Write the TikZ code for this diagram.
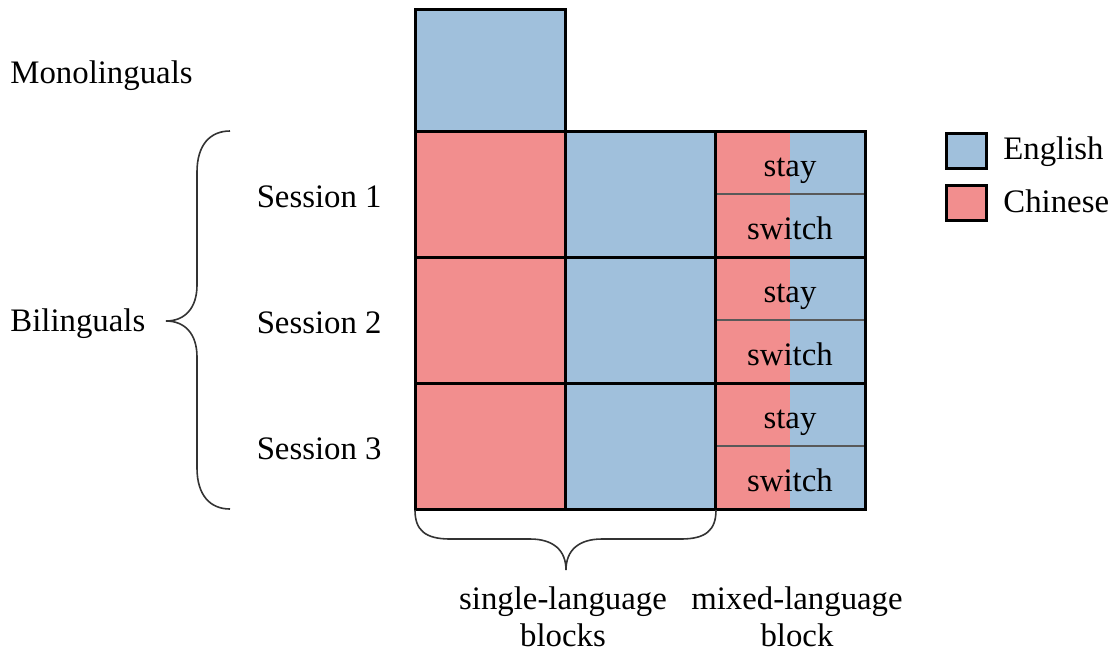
\documentclass[tikz,border=0pt]{standalone}
\usepackage{fontspec}
\setmainfont{Liberation Serif}
\usetikzlibrary{positioning}
\definecolor{engblue}{RGB}{160,192,220}
\definecolor{zhred}{RGB}{242,142,142}

\begin{document}
\begin{tikzpicture}[
    x=0.5pt, y=-0.5pt,
    % Define styles
    lab/.style={inner sep=0pt, font=\fontsize{16.4pt}{18.5pt}\selectfont},
    block/.style={rectangle, draw=black, line width=1.5pt, outer sep=0pt, inner sep=0pt, minimum width=75pt, minimum height=63pt},
    engblock/.style={block, fill=engblue},
    zhblock/.style={block, fill=zhred},
    mixcell/.style={rectangle, draw=black!65, line width=0.9pt, outer sep=0pt, inner sep=0pt, minimum width=75pt, minimum height=31.5pt, fill=zhred, text height=14pt, text depth=0pt, font=\fontsize{16.4pt}{18.5pt}\selectfont,
        path picture={\fill[engblue] (path picture bounding box.south) rectangle (path picture bounding box.north east);}},
    frame/.style={draw=black, line width=1.5pt},
    brace/.style={draw=black!80, line width=0.8pt},
    key/.style={rectangle, draw=black, line width=1.5pt, inner sep=0pt, minimum width=20pt, minimum height=17.5pt}
]
\useasboundingbox (0,0) rectangle (1115,655);

% Monolinguals
\node[engblock, minimum height=61pt] (mono) at (490,70) {};

% Session 1
\node[zhblock, below=0pt of mono] (s1zh) {};
\node[engblock, right=0pt of s1zh] (s1en) {};
\node[mixcell, anchor=north west] (s1stay) at (s1en.north east) {stay};
\node[mixcell, below=0pt of s1stay] (s1switch) {switch};
\draw[frame] (s1stay.north west) rectangle (s1switch.south east);

% Session 2
\node[zhblock, below=0pt of s1zh] (s2zh) {};
\node[engblock, right=0pt of s2zh] (s2en) {};
\node[mixcell, anchor=north west] (s2stay) at (s2en.north east) {stay};
\node[mixcell, below=0pt of s2stay] (s2switch) {switch};
\draw[frame] (s2stay.north west) rectangle (s2switch.south east);

% Session 3
\node[zhblock, below=0pt of s2zh] (s3zh) {};
\node[engblock, right=0pt of s3zh] (s3en) {};
\node[mixcell, anchor=north west] (s3stay) at (s3en.north east) {stay};
\node[mixcell, below=0pt of s3stay] (s3switch) {switch};
\draw[frame] (s3stay.north west) rectangle (s3switch.south east);

% Row labels
\node[lab, anchor=base west] (monolab) at (10,83) {Monolinguals};
\node[lab, anchor=base west] (bilab) at (10,331) {Bilinguals};
\node[lab, left=16.5pt of s1zh, yshift=-1.5pt] (sess1) {Session 1};
\node[lab, left=16.5pt of s2zh, yshift=-1.5pt] (sess2) {Session 2};
\node[lab, left=16.5pt of s3zh, yshift=-1.5pt] (sess3) {Session 3};

% Braces
\draw[brace] (230,131) .. controls (210,131) and (197,145) .. (197,172)
    -- (197,285) .. controls (197,308) and (185,321) .. (166,321)
    .. controls (185,321) and (197,334) .. (197,357)
    -- (197,468) .. controls (197,495) and (210,509) .. (230,509);
\draw[brace] (415,510) .. controls (415,530) and (425,539) .. (450,539)
    -- (530,539) .. controls (553,539) and (566,550) .. (566,570)
    .. controls (566,550) and (579,539) .. (602,539)
    -- (681,539) .. controls (706,539) and (716,530) .. (716,510);

% Column labels
\node[lab, align=center, anchor=north] (singlelab) at (563,586) {single-language\\blocks};
\node[lab, align=center, anchor=north] (mixlab) at (797,586) {mixed-language\\block};

% Legend
\node[key, fill=engblue] (engkey) at (966,150.5) {};
\node[key, fill=zhred] (zhkey) at (966,202.5) {};
\node[lab, anchor=base west] (englab) at (1003,159) {English};
\node[lab, anchor=base west] (zhlab) at (1003,212) {Chinese};

\end{tikzpicture}
\end{document}
